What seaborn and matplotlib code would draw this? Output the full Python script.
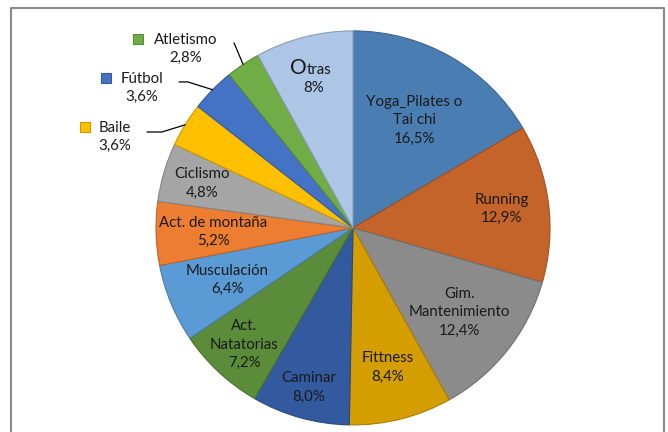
import matplotlib
matplotlib.use('Agg')
import matplotlib.pyplot as plt
import matplotlib.colors as mcolors
import numpy as np
import seaborn as sns

# Datos (porcentaje de practicantes por actividad)
categorias = ['Yoga_Pilates o\nTai chi', 'Running', 'Gim.\nMantenimiento', 'Fittness',
              'Caminar', 'Act.\nNatatorias', 'Musculación', 'Act. de montaña',
              'Ciclismo', 'Baile', 'Fútbol', 'Atletismo', 'Otras']
valores = [16.5, 12.9, 12.4, 8.4, 8.0, 7.2, 6.4, 5.2, 4.8, 3.6, 3.6, 2.8, 8.0]
etiquetas_pct = ['16,5%', '12,9%', '12,4%', '8,4%', '8,0%', '7,2%', '6,4%', '5,2%',
                 '4,8%', '3,6%', '3,6%', '2,8%', '8%']
colores = ['#4A7EB3', '#C4642A', '#8B8B8B', '#D49E00', '#335A9E', '#5A8C3A', '#5B9BD5',
           '#ED7D31', '#A5A5A5', '#FFC000', '#4472C4', '#70AD47', '#ADC6E5']

sns.set_theme(style='white')
plt.rcParams['font.family'] = ['Lato', 'DejaVu Sans']

# radio relativo de la etiqueta dentro de cada porción
radio_etq = [0.63, 0.76, 0.69, 0.73, 0.84, 0.81, 0.69, 0.71, 0.80, None, None, None, 0.80]
# etiquetas exteriores: (texto, marcador, puntos de la línea guía)
exteriores = {
    'Atletismo': ((-0.848, 0.909), (-1.091, 0.959), [(-0.604, 0.939)]),
    'Fútbol': ((-1.071, 0.711), (-1.254, 0.761), [(-0.838, 0.741), (-0.883, 0.741)]),
    'Baile': ((-1.208, 0.462), (-1.360, 0.513), [(-0.970, 0.487), (-1.046, 0.487)]),
}

fig = plt.figure(figsize=(6.68, 4.32), dpi=100)
ax = fig.add_axes([0, 0, 1, 1])

bordes = [tuple(c * 0.8 for c in mcolors.to_rgb(col)) for col in colores]
wedges, _ = ax.pie(valores, colors=colores, startangle=90, counterclock=False,
                   wedgeprops=dict(linewidth=0.8))
for w, b in zip(wedges, bordes):
    w.set_edgecolor(b)

fs = 10.8
txt_col = '#1a1a1a'
for i, w in enumerate(wedges):
    ang = np.deg2rad((w.theta1 + w.theta2) / 2)
    nombre = categorias[i]
    if nombre in exteriores:
        pos_txt, pos_mk, guia = exteriores[nombre]
        ax.text(pos_txt[0], pos_txt[1], nombre + '\n' + etiquetas_pct[i], ha='center',
                va='center', fontsize=fs, color=txt_col, linespacing=1.4)
        ax.plot(pos_mk[0], pos_mk[1], marker='s', markersize=6.5, color=colores[i],
                markeredgecolor=bordes[i], markeredgewidth=0.8)
        xs = [np.cos(ang)] + [p[0] for p in guia]
        ys = [np.sin(ang)] + [p[1] for p in guia]
        ax.plot(xs, ys, color='black', linewidth=0.9)
        continue
    r = radio_etq[i]
    x, y = r * np.cos(ang), r * np.sin(ang)
    if nombre == 'Otras':
        # la "O" aparece más grande en el original
        ax.annotate('O', (x, y), xytext=(-5, 1), textcoords='offset points', ha='right',
                    va='baseline', fontsize=15, color=txt_col)
        ax.annotate('tras', (x, y), xytext=(-5, 1), textcoords='offset points', ha='left',
                    va='baseline', fontsize=fs, color=txt_col)
        ax.annotate(etiquetas_pct[i], (x, y), xytext=(0, -9), textcoords='offset points',
                    ha='center', va='center', fontsize=fs, color=txt_col)
    else:
        ax.text(x, y, nombre + '\n' + etiquetas_pct[i], ha='center', va='center',
                fontsize=fs, color=txt_col, linespacing=1.4)

ax.set_xlim(-1.792, 1.599)
ax.set_ylim(-1.036, 1.157)
ax.set_axis_off()

# marco del gráfico (abierto por abajo, como en el recorte original)
W, H = 668, 432
fig.add_artist(plt.Line2D([11 / W, 11 / W, 664 / W, 664 / W],
                          [-0.05, 1 - 8 / H, 1 - 8 / H, -0.05],
                          transform=fig.transFigure, color='#8a8a8a', linewidth=1.5))

fig.savefig('out.png', dpi=100)
